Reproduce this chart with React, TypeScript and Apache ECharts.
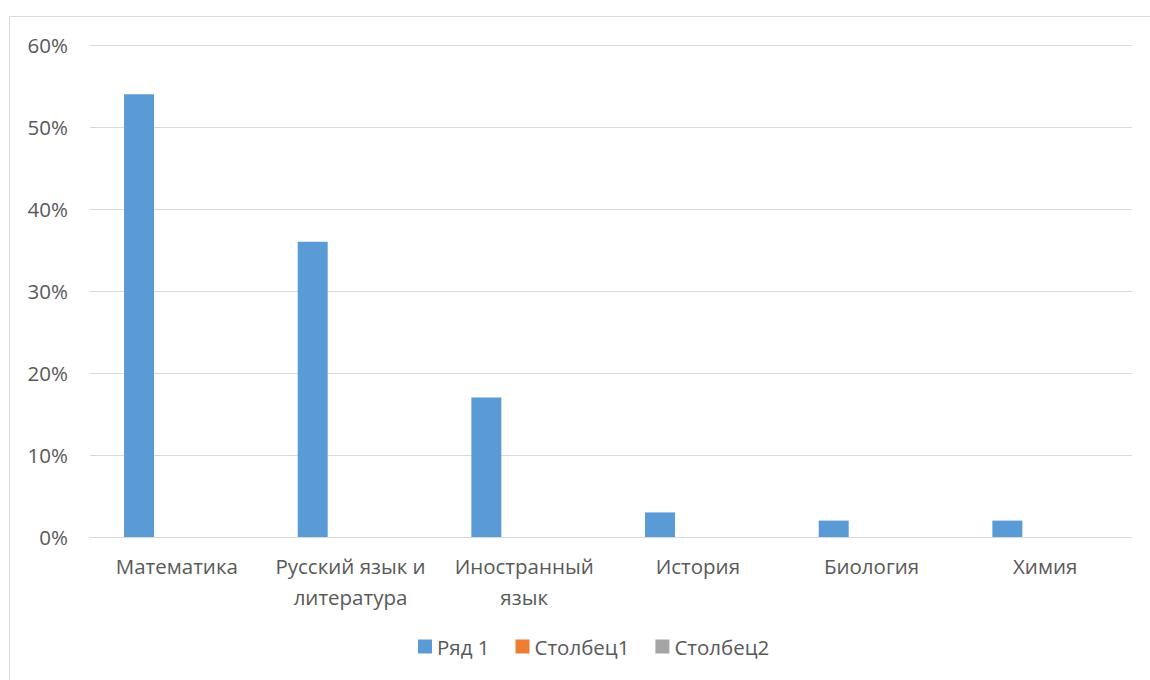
import React, { useEffect, useRef } from "react";
import * as echarts from "echarts";

const categories = [
  "Математика",
  "Русский язык и\nлитература",
  "Иностранный\nязык",
  "История",
  "Биология",
  "Химия",
];
const seriesNames = ["Ряд 1", "Столбец1", "Столбец2"];
const series1 = [54, 36, 17, 3, 2, 2];
const series2: (number | null)[] = [null, null, null, null, null, null];
const series3: (number | null)[] = [null, null, null, null, null, null];
const colors = ["#5B9BD5", "#ED7D31", "#A5A5A5"];

const FONT = "'Open Sans', 'Noto Sans', sans-serif";

export default function App() {
  const ref = useRef<HTMLDivElement>(null);
  useEffect(() => {
    document.body.style.margin = "0";
    const chart = echarts.init(ref.current!, undefined, { renderer: "svg" });
    chart.setOption({
      animation: false,
      backgroundColor: "#ffffff",
      textStyle: { fontFamily: FONT },
      graphic: [
        {
          type: "rect",
          shape: { x: 9.5, y: 16.5, width: 1200, height: 700 },
          style: { fill: "none", stroke: "#D9D9D9", lineWidth: 1 },
          silent: true,
        },
      ],
      grid: { left: 90, right: 18, top: 45, bottom: 143, containLabel: false },
      legend: {
        bottom: 18,
        left: 413,
        itemWidth: 14,
        itemHeight: 14,
        itemGap: 26,
        itemStyle: { borderWidth: 0 },
        icon: "rect",
        textStyle: { color: "#595959", fontSize: 20.5, fontFamily: FONT },
        data: seriesNames,
      },
      xAxis: {
        type: "category",
        data: categories,
        axisLine: { show: true, lineStyle: { color: "#D9D9D9", width: 1 } },
        axisTick: { show: false },
        axisLabel: {
          color: "#595959",
          fontSize: 20.5,
          fontFamily: FONT,
          margin: 13,
          lineHeight: 31,
          interval: 0,
        },
      },
      yAxis: {
        type: "value",
        min: 0,
        max: 60,
        interval: 10,
        axisLine: { show: false },
        axisTick: { show: false },
        splitLine: { lineStyle: { color: "#D9D9D9", width: 1 } },
        axisLabel: {
          color: "#595959",
          fontSize: 20.5,
          fontFamily: FONT,
          margin: 22,
          formatter: (v: number) => v + "%",
        },
      },
      series: [
        { name: seriesNames[0], type: "bar", data: series1, barWidth: 30, barGap: "26%", itemStyle: { color: colors[0] } },
        { name: seriesNames[1], type: "bar", data: series2, barWidth: 30, barGap: "26%", itemStyle: { color: colors[1] } },
        { name: seriesNames[2], type: "bar", data: series3, barWidth: 30, barGap: "26%", itemStyle: { color: colors[2] } },
      ],
    });
    return () => chart.dispose();
  }, []);
  return <div ref={ref} style={{ width: 1150, height: 680 }} />;
}
